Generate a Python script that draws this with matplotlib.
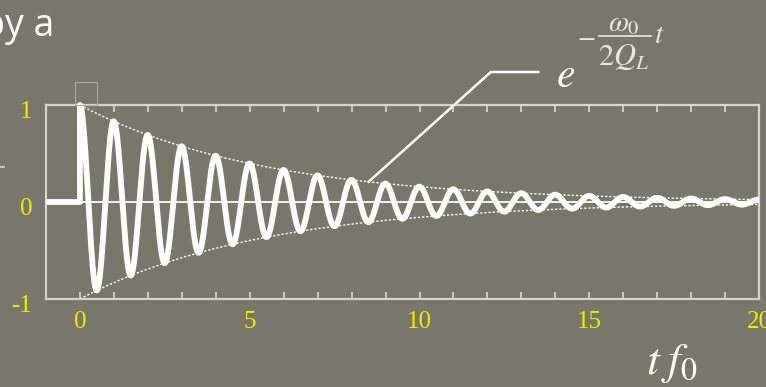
import numpy as np
import matplotlib.pyplot as plt
import matplotlib.transforms as mtransforms
from matplotlib.lines import Line2D
from matplotlib.patches import Rectangle

plt.rcParams['mathtext.fontset'] = 'stix'

# ringing of a cavity after a step drive: time in units of 1/f0
f0 = 1.0        # resonance frequency
Q_L = 17.0      # loaded quality factor
t_min, t_max = -1.0, 20.0

x_ticks = [0, 5, 10, 15, 20]
x_minor = list(range(0, 21))
y_ticks = [-1, 0, 1]
y_labels = ['-1', '0', '1']

t_pointer = 8.5             # where the envelope label points to
pointer_elbow = [(12.1, 1.34), (13.5, 1.34)]

bg = '#77786b'
yellow = '#f2ec00'
frame = '#d4d4ca'
formula = '#e8e8de'

t = np.linspace(0, t_max, 6000)
env = np.exp(-np.pi * f0 * t / Q_L)          # exp(-w0 t / 2Q_L)
sig = env * np.cos(2 * np.pi * f0 * t)

fig = plt.figure(figsize=(7.66, 3.87), dpi=100, facecolor=bg)
ax = fig.add_axes([0.060, 0.2274, 0.931, 0.5013])
ax.set_facecolor('none')

ax.axhline(0, color='white', lw=1.3, zorder=2)
ax.plot(t, env, color='white', lw=1.0, ls=(0, (1.6, 1.4)), zorder=2)
ax.plot(t, -env, color='white', lw=1.0, ls=(0, (1.6, 1.4)), zorder=2)
ax.plot(np.r_[t_min, 0.0, t], np.r_[0.0, 0.0, sig], color='white', lw=4.2,
        solid_joinstyle='round', solid_capstyle='butt', zorder=3, clip_on=False)

# pointer from the envelope up to the formula
y_p = np.exp(-np.pi * f0 * t_pointer / Q_L)
px = [t_pointer] + [p[0] for p in pointer_elbow]
py = [y_p] + [p[1] for p in pointer_elbow]
ax.plot(px, py, color='white', lw=1.8, clip_on=False, zorder=3)

ax.set_xlim(t_min, t_max)
ax.set_ylim(-1, 1)
ax.set_xticks(x_ticks)
ax.set_xticks(x_minor, minor=True)
ax.set_yticks(y_ticks)
ax.set_yticklabels(y_labels)
ax.tick_params(axis='x', which='both', direction='in', top=True, bottom=True,
               length=5, width=1.3, color=frame, labelcolor=yellow,
               labelsize=18, pad=9)
ax.tick_params(axis='y', length=0, labelcolor=yellow, labelsize=18, pad=10)
shift = mtransforms.ScaledTranslation(0, -0.045, fig.dpi_scale_trans)
for lab in ax.get_yticklabels():
    lab.set_transform(lab.get_transform() + shift)
for lab in ax.get_xticklabels() + ax.get_yticklabels():
    lab.set_fontfamily('Liberation Serif')
for s in ax.spines.values():
    s.set_color(frame)
    s.set_linewidth(1.6)

# small empty frame above the origin
fig.add_artist(Rectangle((75 / 766, 1 - 105 / 387), 22 / 766, 23 / 387,
                         transform=fig.transFigure, fill=False,
                         ec='#aeaea4', lw=0.8))
fig.add_artist(Line2D([0, 4 / 766], [1 - 167 / 387] * 2, color='#d8d8d0',
                      lw=1.2, transform=fig.transFigure))

fig.text(-18 / 766, 1 - 36 / 387, 'by a', fontsize=27, color='white',
         family='Open Sans', va='baseline')

# e^(-w0 t / 2Q_L)
fig.text(556 / 766, 1 - 87 / 387, r'$e$', fontsize=30, color='white',
         va='baseline', ha='left')
fig.text(586 / 766, 1 - 37 / 387, r'$-$', fontsize=19, color=formula,
         va='center', ha='center')
fig.add_artist(Line2D([599 / 766, 651 / 766], [1 - 36 / 387] * 2,
                      color=formula, lw=1.2, transform=fig.transFigure))
fig.text(624 / 766, 1 - 31 / 387, r'$\omega_0$', fontsize=21, color=formula,
         va='baseline', ha='center')
fig.text(624 / 766, 1 - 65 / 387, r'$2Q_L$', fontsize=22, color=formula,
         va='baseline', ha='center')
fig.text(654 / 766, 1 - 43 / 387, r'$t$', fontsize=21, color=formula,
         va='baseline', ha='left')

fig.text(646 / 766, 1 - 374 / 387, r'$t\;f_0$', fontsize=33, color='white',
         va='baseline', ha='left')

fig.savefig('out.png', dpi=100, facecolor=bg)
